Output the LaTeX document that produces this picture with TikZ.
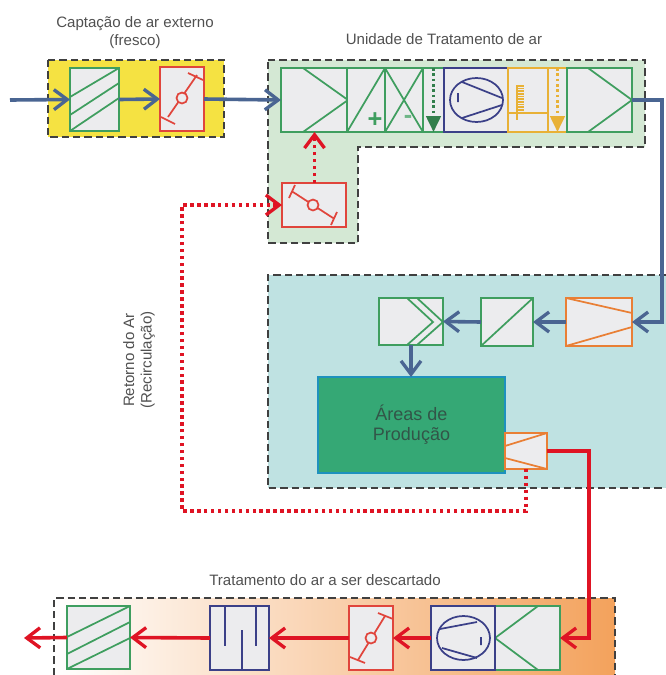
\documentclass[tikz,border=0pt]{standalone}
\usepackage{fontspec}
\setmainfont{Liberation Sans}
\usetikzlibrary{arrows.meta, positioning, shapes.geometric}
\definecolor{azulfl}{HTML}{4A6592}
\definecolor{verdecp}{HTML}{3F9E5F}
\definecolor{vermcp}{HTML}{E0453C}
\definecolor{laracp}{HTML}{E97F35}
\definecolor{navycp}{HTML}{3B4088}
\definecolor{ourocp}{HTML}{E8B136}
\definecolor{vermfl}{HTML}{DF1424}
\definecolor{cinzacp}{HTML}{ECECEE}
\definecolor{textocz}{HTML}{505050}

\begin{document}
\begin{tikzpicture}[
  x=0.75pt, y=-0.75pt,
  sz/.style 2 args={minimum width=#1*0.75pt, minimum height=#2*0.75pt},
  comp/.style={draw, fill=cinzacp, line width=1.7pt, inner sep=0pt, outer sep=0pt, anchor=north west},
  verde/.style={comp, draw=verdecp},
  verm/.style={comp, draw=vermcp},
  lara/.style={comp, draw=laracp},
  navy/.style={comp, draw=navycp},
  ouro/.style={comp, draw=ourocp},
  traco/.style={line width=1.3pt},
  regiao/.style={draw=black!75, line width=1.3pt, dash pattern=on 5.5pt off 3pt},
  rotulo/.style={font=\fontsize{11.3}{13}\selectfont, text=textocz, align=center},
  fluxo/.style={draw=azulfl, line width=2.7pt, -{Straight Barb[length=10pt,width=15pt,line width=2.5pt]}},
  descarte/.style={draw=vermfl, line width=2.7pt, -{Straight Barb[length=10pt,width=15pt,line width=2.5pt]}},
  retorno/.style={draw=vermfl, line width=2.6pt, dash pattern=on 2.6pt off 2.6pt, -{Straight Barb[length=10pt,width=15pt,line width=2.5pt]}}
]
\useasboundingbox (0,0) rectangle (666,675);

% regioes
\fill[fill={rgb,255:red,245;green,226;blue,66}] (48,60) rectangle (224,137);
\draw[regiao] (48,60) rectangle (224,137);
\fill[fill={rgb,255:red,212;green,232;blue,212}] (268,60) -- (645,60) -- (645,147) -- (358,147) -- (358,243) -- (268,243) -- cycle;
\draw[regiao] (268,60) -- (645,60) -- (645,147) -- (358,147) -- (358,243) -- (268,243) -- cycle;
\fill[fill={rgb,255:red,191;green,226;blue,226}] (268,275) rectangle (666,488);
\draw[regiao] (666,275) -- (268,275) -- (268,488) -- (666,488);
\fill[left color=white, middle color={rgb,255:red,251;green,228;blue,210}, right color={rgb,255:red,243;green,162;blue,92}] (54,598) rectangle (615,675);
\draw[regiao] (54,675) -- (54,598) -- (615,598) -- (615,675);

% rotulos
\node[rotulo] (lbfresco) at (135,32.5) {Captação de ar externo\\(fresco)};
\node[rotulo] (lbuta) at (444,39) {Unidade de Tratamento de ar};
\node[rotulo] (lbdesc) at (325,580) {Tratamento do ar a ser descartado};
\node[rotulo, rotate=90] (lbret) at (139,360) {Retorno do Ar\\(Recirculação)};

% captacao
\node[verde, sz={49}{63}] (filfresco) at (70,68) {};
\draw[verdecp, traco] (70,97) -- (119,68) (70,115) -- (119,83) (70,131) -- (119,98);
\node[verm, sz={44}{64}] (dmpfresco) at (160,67) {};
\draw[vermcp, traco] (197,75) -- (168,117) (188,73) -- (203,80) (161,117) -- (175,124);
\draw[vermcp, traco, fill=cinzacp] (182,98) circle (5.5);

% unidade de tratamento
\node[verde, sz={67}{64}] (mist) at (281,68) {};
\draw[verdecp, traco] (303,68) -- (348,100) -- (303,132);
\node[verde, sz={38}{64}] (aquec) at (347,68) {};
\draw[verdecp, traco] (347,132) -- (385,68);
\node[font=\bfseries\fontsize{19}{19}\selectfont, text=verdecp, inner sep=0pt] (mais) at (375,120) {+};
\node[verde, sz={38}{64}] (resfr) at (385,68) {};
\draw[verdecp, traco] (385,68) -- (423,132) (385,132) -- (423,68);
\node[font=\bfseries\fontsize{19}{19}\selectfont, text=verdecp!75, inner sep=0pt] (menos) at (408,119) {-};
\node[verde, sz={21}{64}] (umid) at (423,68) {};
\node[navy, sz={64}{64}] (vent) at (444,68) {};
\draw[navycp, traco] (476.5,100) ellipse (26.5 and 22);
\draw[navycp, traco] (462,82) -- (502,98) (462,118) -- (502,105) (458,93) -- (458,102);
\node[ouro, sz={40}{64}] (aqvap) at (508,68) {};
\draw[ourocp, traco] (508,113) -- (548,113) (517,85) -- (517,120);
\draw[ourocp, line width=5pt, dash pattern=on 1.3pt off 0.7pt] (521,85) -- (521,112);
\node[ouro, sz={19}{64}] (umvap) at (548,68) {};
\node[verde, sz={65}{64}] (saida) at (567,68) {};
\draw[verdecp, traco] (588,68) -- (632,100) -- (588,132);
\node[verm, sz={64}{44}] (dmprec) at (282,183) {};
\draw[vermcp, traco] (293,192) -- (333,218) (295,185) -- (289,198) (337,212) -- (331,225);
\draw[vermcp, traco, fill=cinzacp] (313,205) circle (5.5);

% areas de producao
\node[lara, sz={66}{48}] (pre) at (566,298) {};
\draw[laracp, traco] (566,298) -- (632,313) (566,346) -- (632,327);
\node[verde, sz={52}{48}] (fina) at (481,298) {};
\draw[verdecp, traco] (481,346) -- (533,298);
\node[verde, sz={64}{47}] (absol) at (379,298) {};
\draw[verdecp, traco] (407,298) -- (433,322) -- (407,345) (417,298) -- (443,322) -- (417,345);
\node[comp, draw={rgb,255:red,30;green,145;blue,190}, fill={rgb,255:red,53;green,168;blue,117}, sz={187}{96}, align=center, text={rgb,255:red,50;green,85;blue,72}, font=\fontsize{13.5}{15}\selectfont] (areas) at (318,377) {Áreas de\\Produção};
\node[lara, sz={42}{36}] (exa) at (505,433) {};
\draw[laracp, traco] (505,446) -- (547,433) (505,458) -- (547,469);

% tratamento do descarte
\node[verde, sz={65}{64}] (capt) at (495,606) {};
\draw[verdecp, traco] (538,606) -- (495,638) -- (538,670);
\node[navy, sz={64}{64}] (ventd) at (431,606) {};
\draw[navycp, traco] (463.5,638) ellipse (26.5 and 22);
\draw[navycp, traco] (440,629) -- (477,622) (442,648) -- (477,658) (481,637) -- (481,645);
\node[verm, sz={44}{64}] (dmpdesc) at (349,606) {};
\draw[vermcp, traco] (385,616) -- (358,660) (378,613) -- (393,619) (350,657) -- (365,663);
\draw[vermcp, traco, fill=cinzacp] (371,638) circle (5.5);
\node[navy, sz={59}{64}] (silen) at (210,606) {};
\draw[navycp, traco] (225,606) -- (225,646) (242,630) -- (242,670) (256,606) -- (256,646);
\node[verde, sz={63}{63}] (fildesc) at (67,606) {};
\draw[verdecp, traco] (67,637) -- (130,606) (67,654) -- (130,622) (67,669) -- (130,638);

\coordinate (entrada) at (10,100);
\coordinate (dobraaz) at (662,100);
\coordinate (dobravm) at (589,451);
\coordinate (dobrard) at (526,511);
\coordinate (dobrare) at (182,511);
\coordinate (fim) at (24,638);

\draw[fluxo] (entrada) -- (filfresco.west);
\draw[fluxo] (filfresco.east) -- (dmpfresco.west);
\draw[fluxo] (dmpfresco.east) -- (mist.west);
\draw[fluxo] (saida.east) -- (dobraaz) |- (pre.east);
\draw[fluxo] (pre.west) -- (fina.east);
\draw[fluxo] (fina.west) -- (absol.east);
\draw[fluxo] (absol.south) -- (absol.south |- areas.north);
\draw[descarte] (exa.east) -- (dobravm) |- (capt.east);
\draw[descarte] (ventd.west) -- (dmpdesc.east);
\draw[descarte] (dmpdesc.west) -- (silen.east);
\draw[descarte] (silen.west) -- (fildesc.east);
\draw[descarte] (fildesc.west) -- (fim);
\draw[retorno] (exa.south) -- (dobrard) -- (dobrare) |- (dmprec.west);
\draw[retorno] (dmprec.north -| mist.south) -- (mist.south);
\draw[draw=verdecp!80!black, line width=2pt, dash pattern=on 2pt off 2pt, -{Triangle[length=12pt,width=11pt]}] (umid.north) -- (umid.south);
\draw[draw=ourocp, line width=2pt, dash pattern=on 2pt off 2pt, -{Triangle[length=12pt,width=11pt]}] (umvap.north) -- (umvap.south);
\end{tikzpicture}
\end{document}
